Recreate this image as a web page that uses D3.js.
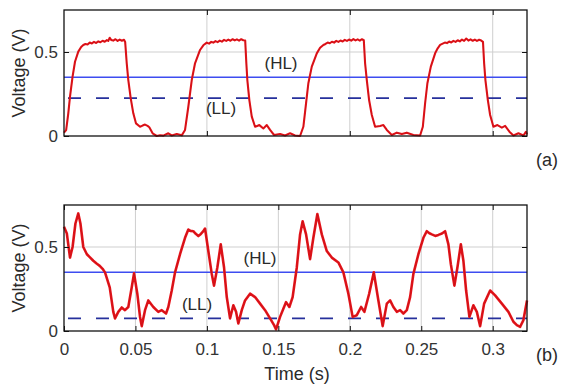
<!DOCTYPE html>
<html><head><meta charset="utf-8">
<script src="https://cdn.jsdelivr.net/npm/d3@7"></script>
<style>
body{margin:0;background:#fff;}
svg text{font-family:"Liberation Sans",Arial,sans-serif;}
</style></head>
<body><svg id="c" width="562" height="387"></svg>
<script>
// ---- data ----
const timeA = [0,0.0015,0.003,0.0042,0.006,0.0077,0.010,0.012,0.0135,0.015,0.0165,0.018,0.0195,0.021,0.0225,0.024,0.0255,0.027,0.0285,0.030,0.031,0.032,0.033,0.0345,0.036,0.0375,0.039,0.0405,0.042,0.0428,0.0439,0.045,0.0467,0.0485,0.0504,0.0532,0.055,0.0567,0.0585,0.0597,0.062,0.0649,0.0672,0.0695,0.073,0.0754,0.0789,0.0824,0.0847,
0.087,0.0894,0.0917,0.0952,0.0975,0.0999,0.1015,0.103,0.1045,0.106,0.1075,0.109,0.1105,0.112,0.1135,0.115,0.1165,0.118,0.1195,0.121,0.1225,0.124,0.1255,0.1268,0.1276,0.1283,0.1297,0.1314,0.1337,0.1352,0.1367,0.1395,0.1419,0.1442,0.147,0.1512,0.1547,0.1582,0.1617,0.1652,
0.1675,0.1694,0.171,0.1734,0.1769,0.1792,0.1815,0.183,0.1845,0.186,0.1875,0.189,0.1905,0.192,0.1935,0.195,0.1965,0.198,0.1995,0.201,0.2025,0.204,0.2055,0.207,0.2085,0.2098,0.2107,0.2119,0.2135,0.2154,0.2177,0.2212,0.2235,0.2259,0.2294,0.2329,0.2364,0.2399,0.2445,0.2492,
0.2511,0.2527,0.2543,0.2567,0.2597,0.2615,0.2632,0.265,0.2665,0.268,0.2695,0.271,0.2725,0.274,0.2755,0.277,0.2785,0.28,0.2815,0.283,0.2845,0.286,0.2875,0.289,0.2905,0.292,0.2932,0.294,0.2949,0.2966,0.2982,0.3005,0.3033,0.3064,0.3087,0.3117,0.3145,0.318,0.3215,0.3232,0.324];
const voltA = [0.02,0.035,0.135,0.234,0.353,0.442,0.502,0.53,0.542,0.548,0.545,0.556,0.551,0.56,0.554,0.563,0.558,0.567,0.561,0.571,0.566,0.585,0.572,0.568,0.576,0.566,0.574,0.567,0.573,0.56,0.433,0.333,0.224,0.135,0.075,0.055,0.062,0.068,0.06,0.052,0.016,0.0,0.004,0.002,0.016,0.003,0.012,0.004,0.036,
0.174,0.333,0.433,0.512,0.54,0.556,0.55,0.56,0.556,0.565,0.559,0.568,0.562,0.572,0.566,0.574,0.567,0.576,0.569,0.575,0.568,0.576,0.57,0.568,0.433,0.333,0.214,0.115,0.055,0.06,0.065,0.045,0.065,0.036,0.006,0.012,0.003,0.016,0.003,0.0,
0.055,0.195,0.314,0.413,0.492,0.525,0.542,0.548,0.556,0.552,0.561,0.556,0.566,0.56,0.568,0.563,0.572,0.566,0.574,0.568,0.577,0.569,0.575,0.568,0.576,0.57,0.433,0.333,0.214,0.125,0.055,0.06,0.065,0.036,0.006,0.02,0.012,0.02,0.006,0.003,
0.055,0.195,0.314,0.413,0.492,0.522,0.542,0.55,0.556,0.553,0.562,0.557,0.566,0.56,0.57,0.563,0.574,0.566,0.58,0.568,0.575,0.567,0.574,0.566,0.573,0.568,0.56,0.433,0.333,0.214,0.125,0.055,0.065,0.05,0.06,0.026,0.003,0.016,0.003,0.025,0.01];

const timeB = [0,0.002,0.0042,0.006,0.008,0.010,0.0115,0.0135,0.016,0.018,0.0205,0.023,0.025,0.027,0.0287,0.032,0.0345,0.0357,0.038,0.0404,0.0427,0.045,0.0474,0.049,0.0513,0.0532,0.0544,0.0567,0.059,0.0625,0.066,0.0684,0.0714,0.073,0.0754,0.0777,0.0812,0.0847,0.087,0.0885,0.0905,0.092,0.094,0.0958,0.0975,0.0987,0.101,0.1034,0.105,0.1073,0.1097,0.112,0.1139,0.1162,0.1185,0.1204,0.122,0.1244,0.1267,0.1302,0.1337,0.1372,0.1407,0.1442,0.147,0.1484,0.1512,0.1535,0.1554,0.1577,0.16,0.1629,0.1652,0.167,0.1694,0.1722,0.1745,0.1773,0.1804,0.1839,0.1874,0.192,0.1955,0.199,0.202,0.2049,0.2079,0.2102,0.2135,0.2168,0.22,0.223,0.2259,0.2282,0.2305,0.2329,0.2352,0.2375,0.2399,0.2422,0.2445,0.248,0.2515,0.2539,0.2557,0.2574,0.2598,0.262,0.2645,0.2667,0.269,0.2707,0.2732,0.2753,0.2777,0.2795,0.2814,0.2837,0.2865,0.2889,0.2912,0.294,0.2982,0.3017,0.3064,0.311,0.3145,0.3169,0.3192,0.3215,0.324];
const voltB = [0.62,0.58,0.437,0.5,0.64,0.70,0.64,0.50,0.457,0.44,0.418,0.40,0.388,0.37,0.349,0.26,0.114,0.075,0.114,0.14,0.124,0.143,0.26,0.343,0.222,0.084,0.029,0.124,0.182,0.143,0.114,0.124,0.104,0.143,0.241,0.349,0.457,0.555,0.604,0.596,0.594,0.58,0.565,0.578,0.594,0.61,0.476,0.34,0.27,0.378,0.516,0.378,0.202,0.075,0.153,0.114,0.045,0.124,0.182,0.222,0.202,0.163,0.124,0.075,0.035,0.01,0.084,0.133,0.172,0.143,0.202,0.378,0.575,0.653,0.575,0.428,0.555,0.696,0.575,0.476,0.437,0.408,0.349,0.222,0.084,0.094,0.143,0.114,0.22,0.349,0.182,0.029,0.163,0.182,0.143,0.114,0.124,0.104,0.124,0.202,0.34,0.457,0.555,0.594,0.582,0.575,0.566,0.572,0.58,0.594,0.516,0.398,0.27,0.378,0.516,0.418,0.241,0.084,0.153,0.114,0.029,0.163,0.241,0.212,0.163,0.114,0.055,0.035,0.025,0.065,0.182];

const highLevelA = 0.35, lowLevelA = 0.225;
const highLevelB = 0.35, lowLevelB = 0.075;
const xDomain = [0, 0.324];
const yDomain = [0, 0.75];
const xTicksA = [0.1, 0.2, 0.3];
const xTicksB = [0, 0.05, 0.1, 0.15, 0.2, 0.25, 0.3];
const xTickLabelsB = ["0","0.05","0.1","0.15","0.2","0.25","0.3"];
const yTicks = [0, 0.5];
const yTickLabels = ["0","0.5"];

// ---- drawing ----
const svg = d3.select("#c");
const X0 = 64, X1 = 527;
const panels = [
  {top:10, bottom:136, t:timeA, v:voltA, hl:highLevelA, ll:lowLevelA, xt:xTicksA, xl:null, tag:"(a)", hlPos:[281,69], llPos:[221,114], lw:2.1},
  {top:205, bottom:331, t:timeB, v:voltB, hl:highLevelB, ll:lowLevelB, xt:xTicksB, xl:xTickLabelsB, tag:"(b)", hlPos:[260,264], llPos:[197,310], lw:2.6}
];
const x = d3.scaleLinear().domain(xDomain).range([X0, X1]);

panels.forEach(p => {
  const y = d3.scaleLinear().domain(yDomain).range([p.bottom, p.top]);
  const g = svg.append("g");
  // grid
  g.selectAll(".gx").data(p.xt.filter(d => d > 0)).enter().append("line")
    .attr("x1", d => x(d)).attr("x2", d => x(d)).attr("y1", p.top).attr("y2", p.bottom)
    .attr("stroke", "#cfcfcf").attr("stroke-width", 1);
  g.selectAll(".gy").data(yTicks.filter(d => d > 0)).enter().append("line")
    .attr("x1", X0).attr("x2", X1).attr("y1", d => y(d)).attr("y2", d => y(d))
    .attr("stroke", "#cfcfcf").attr("stroke-width", 1);

  // threshold lines
  g.append("line").attr("x1", X0).attr("x2", X1).attr("y1", y(p.hl)).attr("y2", y(p.hl))
    .attr("stroke", "#3d4df0").attr("stroke-width", 1.6);
  g.append("line").attr("x1", X0).attr("x2", X1).attr("y1", y(p.ll)).attr("y2", y(p.ll))
    .attr("stroke", "#26309c").attr("stroke-width", 1.8)
    .attr("stroke-dasharray", "13,15").attr("stroke-dashoffset", 24);

  // signal
  const pts = p.t.map((t, i) => [t, p.v[i]]);
  const line = d3.line().x(d => x(d[0])).y(d => y(d[1]));
  g.append("path").attr("d", line(pts)).attr("fill", "none")
    .attr("stroke", "#e8141b").attr("stroke-width", p.lw).attr("stroke-linejoin", "round");
  g.append("path").attr("d", line(pts)).attr("fill", "none")
    .attr("stroke", "#8a1010").attr("stroke-width", 0.5).attr("stroke-opacity", 0.55);

  // axes
  const ax = d3.axisBottom(x).tickValues(p.xt).tickSize(-5).tickPadding(12)
    .tickFormat((d, i) => p.xl ? p.xl[i] : "");
  const axT = d3.axisTop(x).tickValues(p.xt).tickSize(-5).tickFormat("");
  const ay = d3.axisLeft(y).tickValues(yTicks).tickSize(-5).tickPadding(6)
    .tickFormat((d, i) => yTickLabels[i]);
  const ayR = d3.axisRight(y).tickValues(yTicks).tickSize(-5).tickFormat("");
  [[ax, `translate(0,${p.bottom})`], [axT, `translate(0,${p.top})`], [ay, `translate(${X0},0)`], [ayR, `translate(${X1},0)`]]
    .forEach(([a, tr]) => {
      const ag = g.append("g").attr("transform", tr).call(a);
      ag.select(".domain").remove();
      ag.selectAll("line").attr("stroke", "#111").attr("stroke-width", 1);
      ag.selectAll("text").attr("font-size", 17).attr("fill", "#333")
        .attr("font-family", "'Liberation Sans',Arial,sans-serif");
    });
  g.append("rect").attr("x", X0).attr("y", p.top).attr("width", X1 - X0).attr("height", p.bottom - p.top)
    .attr("fill", "none").attr("stroke", "#111").attr("stroke-width", 1.3);

  // labels
  g.append("text").attr("transform", `translate(25,${(p.top + p.bottom) / 2}) rotate(-90)`)
    .attr("text-anchor", "middle").attr("font-size", 18).attr("fill", "#2a2a2a").text("Voltage (V)");
  g.append("text").attr("x", p.hlPos[0]).attr("y", p.hlPos[1]).attr("text-anchor", "middle")
    .attr("font-size", 17).attr("fill", "#2a2a2a").text("(HL)");
  g.append("text").attr("x", p.llPos[0]).attr("y", p.llPos[1]).attr("text-anchor", "middle")
    .attr("font-size", 17).attr("fill", "#2a2a2a").text("(LL)");
  g.append("text").attr("x", 547).attr("y", p.bottom + 30).attr("text-anchor", "middle")
    .attr("font-size", 18).attr("fill", "#2a2a2a").text(p.tag);
});

svg.append("text").attr("x", 297).attr("y", 380).attr("text-anchor", "middle")
  .attr("font-size", 18).attr("fill", "#2a2a2a").text("Time (s)");
</script></body></html>
